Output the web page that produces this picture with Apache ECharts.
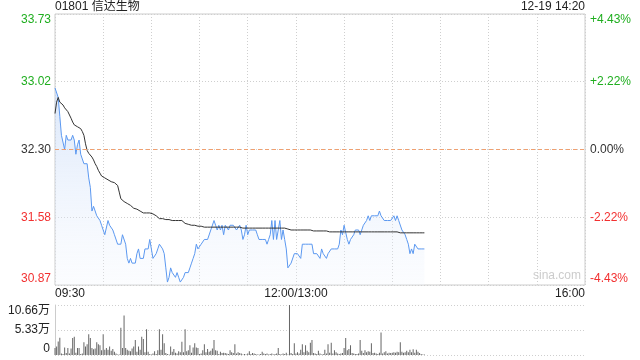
<!DOCTYPE html>
<html>
<head>
<meta charset="utf-8">
<script src="https://cdn.jsdelivr.net/npm/echarts@6/dist/echarts.min.js"></script>
<style>
html,body{margin:0;padding:0;background:#fff;}
#c{width:640px;height:360px;}
</style>
</head>
<body>
<div id="c"></div>
<script>
const titleText = '01801 信达生物';
const timeText = '12-19 14:20';
const prevClose = 32.30;
const priceLabels = ['30.87', '31.58', '32.30', '33.02', '33.73'];
const pctLabels = ['-4.43%', '-2.22%', '0.00%', '+2.22%', '+4.43%'];
const volLabels = ['0', '5.33万', '10.66万'];
const timeLabels = {0: '09:30', 150: '12:00/13:00', 330: '16:00'};

const priceValues = [
32.95, 32.95, 32.85, 32.65, 32.45, 32.45, 32.30, 32.45, 32.40, 32.40,
32.40, 32.45, 32.40, 32.25, 32.35, 32.40, 32.25, 32.20, 32.15, 32.15,
32.15, 32.00, 31.90, 31.65, 31.70, 31.70, 31.60, 31.60, 31.55, 31.50,
31.45, 31.40, 31.40, 31.55, 31.50, 31.50, 31.45, 31.40, 31.40, 31.30,
31.30, 31.30, 31.40, 31.40, 31.30, 31.15, 31.10, 31.15, 31.10, 31.10,
31.10, 31.20, 31.25, 31.15, 31.15, 31.15, 31.25, 31.25, 31.25, 31.35,
31.25, 31.15, 31.15, 31.20, 31.25, 31.30, 31.30, 31.25, 31.20, 31.05,
30.90, 30.95, 31.05, 31.00, 31.00, 30.95, 31.00, 30.95, 30.90,
30.90, 30.95, 31.00, 31.00, 31.00, 31.05, 31.10, 31.15, 31.20, 31.30,
31.25, 31.25, 31.30, 31.30, 31.35, 31.35, 31.35, 31.35, 31.45, 31.45,
31.55, 31.50, 31.45, 31.50, 31.45, 31.50, 31.40, 31.50, 31.50, 31.45,
31.50, 31.50, 31.50, 31.50, 31.45, 31.45, 31.50, 31.45, 31.35, 31.40,
31.50, 31.40, 31.45, 31.45, 31.45, 31.45, 31.45, 31.40, 31.35, 31.35,
31.35, 31.35, 31.35, 31.30, 31.35, 31.40, 31.55, 31.35, 31.55, 31.35,
31.45, 31.55, 31.35, 31.45, 31.35, 31.25, 31.05, 31.05, 31.10, 31.10,
31.20, 31.20,
31.20, 31.20, 31.15, 31.30, 31.30, 31.30, 31.30, 31.30, 31.30, 31.30,
31.20, 31.20, 31.20, 31.20, 31.15, 31.25, 31.20, 31.20, 31.15, 31.20,
31.20, 31.25, 31.25, 31.25, 31.25, 31.25, 31.30, 31.45, 31.40, 31.50,
31.50, 31.35, 31.30, 31.35, 31.35, 31.40, 31.45, 31.45, 31.45, 31.40,
31.45, 31.50, 31.50, 31.55, 31.60, 31.55, 31.60, 31.60, 31.60, 31.60,
31.60, 31.65, 31.60, 31.60, 31.55, 31.55, 31.55, 31.55, 31.55, 31.55,
31.60, 31.55, 31.60, 31.55, 31.55, 31.45, 31.45, 31.40, 31.35, 31.30,
31.20, 31.25, 31.20, 31.30, 31.30, 31.25, 31.25, 31.25, 31.25, 31.25
];

const avgValues = [
32.68, 32.80, 32.85, 32.80, 32.79, 32.77, 32.74, 32.73, 32.70, 32.68,
32.63, 32.59, 32.56, 32.55, 32.54, 32.53, 32.52, 32.49, 32.45, 32.36,
32.29, 32.26, 32.24, 32.22, 32.19, 32.15, 32.12, 32.08, 32.05, 32.02,
32.01, 32.00, 31.99, 31.98, 31.97, 31.96, 31.95, 31.95, 31.95, 31.92,
31.85, 31.78, 31.76, 31.75, 31.74, 31.73, 31.72, 31.71, 31.69, 31.68,
31.68, 31.67, 31.66, 31.65, 31.64, 31.63, 31.63, 31.63, 31.63, 31.63,
31.62, 31.62, 31.61, 31.60, 31.58, 31.57, 31.57, 31.57, 31.56, 31.56,
31.56, 31.56, 31.55, 31.55, 31.55, 31.55, 31.55, 31.55, 31.55, 31.55,
31.53, 31.52, 31.52, 31.51, 31.51, 31.50, 31.50, 31.50, 31.50, 31.49,
31.49, 31.49, 31.49, 31.48, 31.48, 31.48, 31.48, 31.48, 31.48, 31.48,
31.48, 31.48, 31.48, 31.48, 31.48, 31.48, 31.48, 31.48, 31.48, 31.48,
31.48, 31.48, 31.48, 31.48, 31.48, 31.48, 31.48, 31.47, 31.47, 31.47,
31.47, 31.47, 31.47, 31.47, 31.47, 31.47, 31.47, 31.47, 31.47, 31.47,
31.47, 31.47, 31.47, 31.47, 31.47, 31.47, 31.47, 31.47, 31.47, 31.47,
31.47, 31.47, 31.47, 31.47, 31.47, 31.46, 31.46, 31.45, 31.45, 31.45,
31.45, 31.45, 31.45, 31.45, 31.45, 31.45, 31.45, 31.45, 31.45, 31.45,
31.45, 31.44, 31.44, 31.44, 31.44, 31.44, 31.44, 31.44, 31.44, 31.44,
31.44, 31.43, 31.43, 31.43, 31.43, 31.43, 31.43, 31.43, 31.43, 31.43,
31.43, 31.43, 31.43, 31.43, 31.43, 31.43, 31.43, 31.43, 31.43, 31.43,
31.43, 31.43, 31.43, 31.43, 31.43, 31.43, 31.43, 31.43, 31.43, 31.43,
31.43, 31.43, 31.43, 31.43, 31.43, 31.43, 31.43, 31.43, 31.43, 31.43,
31.43, 31.43, 31.43, 31.43, 31.43, 31.42, 31.42, 31.42, 31.42, 31.42,
31.42, 31.42, 31.42, 31.42, 31.42, 31.42, 31.42, 31.42, 31.42, 31.42, 31.42
];

// volume in 万 shares
const volumeValues = [
1.5, 1.8, 2.9, 3.7, 0.3, 0.2, 1.6, 0.4, 1.5, 0.3,
1.4, 3.6, 3.9, 0.5, 1.5, 1.5, 0.2, 0.3, 2.7, 1.8,
2.3, 4.4, 3.6, 1.5, 1.2, 1.4, 2.7, 2.3, 2.1, 1.0,
4.4, 1.1, 1.5, 1.1, 1.8, 0.9, 1.3, 0.7, 0.3, 0.1,
0.1, 5.8, 1.5, 8.4, 1.5, 1.1, 0.9, 0.8, 1.4, 1.8,
3.2, 0.7, 1.8, 1.1, 3.9, 3.4, 0.6, 5.5, 0.7, 0.2,
0.1, 0.3, 0.8, 0.2, 1.0, 5.5, 1.1, 4.4, 2.5, 0.4,
0.2, 0.1, 1.8, 0.7, 1.3, 0.5, 0.3, 0.8, 0.6, 2.8,
0.6, 5.5, 0.8, 1.0, 2.1, 0.5, 1.6, 2.5, 1.6, 1.5,
0.2, 0.3, 1.0, 2.3, 0.6, 1.3, 0.7, 0.9, 1.4, 3.2,
1.0, 0.9, 0.2, 0.7, 0.4, 0.5, 0.4, 0.3, 0.2, 1.0,
0.6, 0.4, 2.3, 0.3, 0.6, 0.4, 0.3, 0.1, 0.2, 0.1,
0.3, 0.8, 0.2, 0.4, 0.3, 0.2, 0.1, 0.1, 0.2, 0.7,
0.3, 0.2, 0.3, 0.1, 0.2, 0.3, 0.1, 0.2, 0.3, 1.5,
0.2, 0.1, 0.3, 0.2, 0.5, 0.1, 10.66, 0.4, 0.2, 2.5,
0.3, 0.6, 0.3, 1.1, 2.3, 0.6, 2.1, 0.9, 0.6, 2.6,
3.2, 0.4, 0.3, 0.2, 0.9, 0.3, 0.1, 0.2, 1.1, 0.3,
2.3, 0.5, 2.6, 0.3, 1.0, 0.6, 0.3, 0.2, 0.3, 0.4,
1.5, 3.6, 1.0, 1.3, 2.1, 0.4, 0.3, 0.2, 0.2, 0.3,
3.2, 0.9, 0.4, 1.0, 0.6, 0.8, 0.7, 2.5, 0.4, 0.5,
0.3, 0.2, 0.5, 4.8, 0.3, 0.6, 0.8, 0.3, 0.5, 0.4,
0.5, 0.6, 0.5, 0.7, 0.6, 2.7, 0.7, 0.5, 0.6, 0.9,
0.6, 1.1, 0.6, 1.2, 0.5, 1.1, 0.7, 0.4, 0.2, 0.1, 0.1
];

const maxPct = 4.43;
const pMin = prevClose * (1 - maxPct / 100);
const pMax = prevClose * (1 + maxPct / 100);
const pStep = (pMax - pMin) / 4;
const volMax = 10.66;

const GREEN = '#1fae1f', RED = '#f23030', DARK = '#333';
const labelColors = [RED, RED, DARK, GREEN, GREEN];
const FONT = '"Liberation Sans", Arial, "Noto Sans CJK SC", sans-serif';
const priceIdx = v => Math.round((Number(v) - pMin) / pStep);
const pctIdx = v => Math.round((Number(v) + maxPct) / (maxPct / 2));

const chart = echarts.init(document.getElementById('c'), null, {renderer: 'canvas'});
const dotted = {color: '#cfcfcf', type: [1, 2], width: 1};

chart.setOption({
  animation: false,
  textStyle: {fontFamily: FONT},
  title: [
    {text: titleText, left: 55, top: 1, padding: 0, textStyle: {fontSize: 12, fontWeight: 'normal', color: '#222', fontFamily: FONT}},
    {text: timeText, right: 55, top: 1, padding: 0, textStyle: {fontSize: 12, fontWeight: 'normal', color: '#222', fontFamily: FONT}}
  ],
  grid: [
    {left: 55, top: 14, width: 530, height: 271, show: true, borderColor: '#cccccc', borderWidth: 1},
    {left: 55, top: 305, width: 530, height: 50}
  ],
  xAxis: [
    {
      type: 'value', gridIndex: 0, min: 0, max: 330, interval: 30,
      axisLine: {show: false}, axisTick: {show: false},
      splitLine: {show: true, lineStyle: dotted},
      axisLabel: {
        show: true, margin: 3, fontSize: 12, color: '#222', fontFamily: FONT,
        alignMinLabel: 'left', alignMaxLabel: 'right',
        formatter: v => timeLabels[v] || ''
      }
    },
    {
      type: 'value', gridIndex: 1, min: 0, max: 330,
      axisLine: {show: false}, axisTick: {show: false},
      splitLine: {show: false}, axisLabel: {show: false}
    }
  ],
  yAxis: [
    {
      type: 'value', gridIndex: 0, min: pMin, max: pMax, interval: pStep,
      axisLine: {show: false}, axisTick: {show: false},
      splitLine: {show: true, lineStyle: dotted},
      axisLabel: {
        margin: 4, fontSize: 12, fontFamily: FONT,
        verticalAlignMinLabel: 'bottom', verticalAlignMaxLabel: 'top',
        formatter: v => priceLabels[priceIdx(v)],
        color: v => labelColors[priceIdx(v)]
      }
    },
    {
      type: 'value', gridIndex: 0, position: 'right', min: -maxPct, max: maxPct, interval: maxPct / 2,
      axisLine: {show: false}, axisTick: {show: false}, splitLine: {show: false},
      axisLabel: {
        margin: 5, fontSize: 12, fontFamily: FONT,
        verticalAlignMinLabel: 'bottom', verticalAlignMaxLabel: 'top',
        formatter: v => pctLabels[pctIdx(v)],
        color: v => labelColors[pctIdx(v)]
      }
    },
    {
      type: 'value', gridIndex: 1, min: 0, max: volMax, interval: volMax / 2,
      axisLine: {show: true, lineStyle: {color: '#cccccc'}}, axisTick: {show: false},
      splitLine: {show: true, lineStyle: dotted},
      axisLabel: {
        margin: 5, fontSize: 12, color: '#222', fontFamily: FONT,
        verticalAlignMinLabel: 'bottom', verticalAlignMaxLabel: 'top',
        formatter: v => volLabels[Math.round(Number(v) / (volMax / 2))]
      }
    }
  ],
  graphic: [
    {type: 'text', left: 533, top: 270, style: {text: 'sina.com', fill: '#cccccc', font: '12px ' + FONT}}
  ],
  series: [
    {
      type: 'line', xAxisIndex: 0, yAxisIndex: 0, showSymbol: false, symbol: 'none',
      data: priceValues.map((v, i) => [i, v]),
      lineStyle: {color: '#5b98f0', width: 1},
      areaStyle: {
        origin: 'start',
        color: new echarts.graphic.LinearGradient(0, 0, 0, 1, [
          {offset: 0, color: 'rgba(190,212,246,0.8)'},
          {offset: 1, color: 'rgba(240,245,253,0.35)'}
        ])
      },
      markLine: {
        silent: true, symbol: 'none', label: {show: false},
        lineStyle: {color: '#f0a070', type: [4, 3], width: 1},
        data: [{yAxis: prevClose}]
      },
      z: 3
    },
    {
      type: 'line', xAxisIndex: 0, yAxisIndex: 0, showSymbol: false, symbol: 'none',
      data: avgValues.map((v, i) => [i, v]),
      lineStyle: {color: '#333333', width: 1},
      z: 4
    },
    {
      type: 'bar', xAxisIndex: 1, yAxisIndex: 2, barWidth: 1,
      data: volumeValues.map((v, i) => [i, v]),
      itemStyle: {color: '#666666'}
    }
  ]
});
</script>
</body>
</html>
